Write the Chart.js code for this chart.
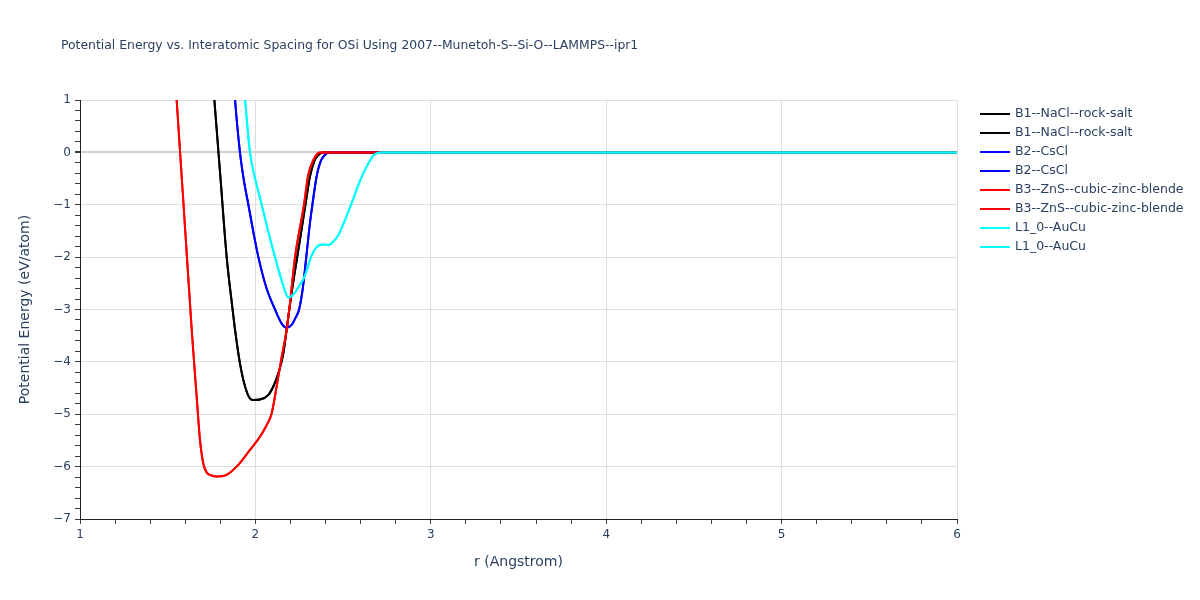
<!DOCTYPE html>
<html lang="en">
<head>
<meta charset="UTF-8">
<title>Potential Energy vs. Interatomic Spacing for OSi</title>
<script src="https://cdn.jsdelivr.net/npm/chart.js"></script>
<style>
  html, body { margin: 0; padding: 0; background: #fff; }
</style>
</head>
<body>
<canvas id="myChart" width="1200" height="600"></canvas>
<script>
// values: r in Angstrom, energy in eV/atom
const rB1 = [1.74, 1.766, 1.80, 1.836, 1.87, 1.884, 1.912, 1.941, 1.969, 1.988, 2.026, 2.074, 2.102, 2.131, 2.159, 2.178, 2.21, 2.254, 2.285, 2.311, 2.335, 2.359, 2.385, 6];
const eB1 = [2.1, 1.0, -0.45, -1.99, -3.0, -3.39, -4.03, -4.47, -4.70, -4.73, -4.72, -4.63, -4.47, -4.22, -3.84, -3.39, -2.6, -1.67, -1.0, -0.46, -0.17, -0.05, 0, 0];

const rB2 = [1.87, 1.884, 1.912, 1.935, 1.96, 1.99, 2.017, 2.064, 2.112, 2.15, 2.178, 2.205, 2.23, 2.249, 2.27, 2.29, 2.311, 2.325, 2.349, 2.375, 2.406, 2.425, 6];
const eB2 = [1.7, 1.0, 0.0, -0.55, -1.0, -1.55, -2.0, -2.6, -3.0, -3.27, -3.35, -3.3, -3.15, -3.0, -2.6, -2.0, -1.35, -1.0, -0.46, -0.15, -0.02, 0, 0];

const rB3 = [1.53, 1.551, 1.60, 1.637, 1.665, 1.684, 1.703, 1.722, 1.75, 1.779, 1.827, 1.893, 1.969, 2.026, 2.064, 2.093, 2.121, 2.15, 2.178, 2.197, 2.226, 2.277, 2.30, 2.33, 2.35, 2.368, 6];
const eB3 = [2.0, 1.0, -1.5, -3.39, -4.66, -5.49, -5.94, -6.11, -6.17, -6.19, -6.17, -6.0, -5.68, -5.43, -5.21, -4.98, -4.47, -3.90, -3.39, -2.88, -2.0, -1.0, -0.45, -0.15, -0.04, 0, 0];

const rL10 = [1.93, 1.941, 1.969, 2.0, 2.036, 2.074, 2.112, 2.15, 2.188, 2.22, 2.25, 2.283, 2.32, 2.359, 2.39, 2.416, 2.445, 2.473, 2.50, 2.53, 2.56, 2.587, 2.615, 2.644, 2.67, 2.691, 2.72, 6];
const eL10 = [1.4, 1.0, 0.0, -0.52, -1.0, -1.52, -2.0, -2.45, -2.77, -2.7, -2.55, -2.35, -1.97, -1.78, -1.76, -1.77, -1.7, -1.58, -1.38, -1.13, -0.87, -0.62, -0.4, -0.21, -0.07, -0.02, 0, 0];

const names = ['B1--NaCl--rock-salt', 'B2--CsCl', 'B3--ZnS--cubic-zinc-blende', 'L1_0--AuCu'];
const series = [[rB1, eB1], [rB2, eB2], [rB3, eB3], [rL10, eL10]];
const lineColors = ['#000000', '#0000ff', '#ff0000', '#00ffff'];

const chartTitle = 'Potential Energy vs. Interatomic Spacing for OSi Using 2007--Munetoh-S--Si-O--LAMMPS--ipr1';
const fontFamily = '"DejaVu Sans", verdana, arial, sans-serif';
const textColor = '#2a3f5f';

// every structure shows up twice in the original legend
const datasets = [];
series.forEach(function (s, i) {
    for (let k = 0; k < 2; k++) {
        datasets.push({
            label: names[i],
            data: s[0].map((r, j) => ({ x: r, y: s[1][j] })),
            borderColor: lineColors[i],
            backgroundColor: lineColors[i],
            borderWidth: 2,
            pointRadius: 0,
            cubicInterpolationMode: 'monotone',
            order: -(i * 2 + k)   // later traces on top, like plotly
        });
    }
});

function isWhole(v) { return Math.abs(v - Math.round(v)) < 1e-6; }
function tickLabel(v) { return isWhole(v) ? String(Math.round(v)).replace('-', '\u2212') : ''; }

// title at the top-left and a plotly-like legend to the right of the plot
const extrasPlugin = {
    id: 'plotExtras',
    afterDraw(chart) {
        const ctx = chart.ctx;
        ctx.save();
        ctx.font = '12.4px ' + fontFamily;
        ctx.fillStyle = textColor;
        ctx.textBaseline = 'middle';
        ctx.fillText(chartTitle, 61, 46);

        const x0 = chart.chartArea.right + 23;
        ctx.font = '12.5px ' + fontFamily;
        chart.data.datasets.forEach(function (ds, i) {
            const y = 114 + i * 19;
            ctx.strokeStyle = ds.borderColor;
            ctx.lineWidth = 2;
            ctx.beginPath();
            ctx.moveTo(x0, y);
            ctx.lineTo(x0 + 30, y);
            ctx.stroke();
            ctx.fillStyle = textColor;
            ctx.fillText(ds.label, x0 + 35, y);
        });
        ctx.restore();
    }
};

const ctx = document.getElementById('myChart').getContext('2d');
new Chart(ctx, {
    type: 'line',
    data: { datasets: datasets },
    plugins: [extrasPlugin],
    options: {
        responsive: false,
        animation: false,
        layout: { padding: { top: 100, left: 0, bottom: 0, right: 243 } },
        plugins: {
            title: { display: false },
            tooltip: { enabled: false },
            legend: { display: false }
        },
        scales: {
            x: {
                type: 'linear',
                min: 1,
                max: 6,
                afterFit(scale) { scale.height = 81; },
                ticks: {
                    stepSize: 0.2,
                    autoSkip: false,
                    maxRotation: 0,
                    padding: 4,
                    color: textColor,
                    font: { family: fontFamily, size: 12 },
                    callback: tickLabel
                },
                grid: {
                    color: c => isWhole(c.tick.value) ? '#dedede' : 'rgba(0,0,0,0)',
                    tickColor: '#444',
                    tickLength: 5
                },
                border: { display: true, color: '#222', width: 1 },
                title: {
                    display: true,
                    text: 'r (Angstrom)',
                    color: textColor,
                    font: { family: fontFamily, size: 14 },
                    padding: { top: 0, bottom: 29 }
                }
            },
            y: {
                type: 'linear',
                min: -7,
                max: 1,
                afterFit(scale) { scale.width = 80; },
                ticks: {
                    stepSize: 0.2,
                    autoSkip: false,
                    padding: 4,
                    color: textColor,
                    font: { family: fontFamily, size: 12 },
                    callback: tickLabel
                },
                grid: {
                    color: c => isWhole(c.tick.value) ? (Math.round(c.tick.value) === 0 ? '#d0d0d0' : '#dedede') : 'rgba(0,0,0,0)',
                    lineWidth: c => Math.round(c.tick.value * 5) === 0 ? 2 : 1,
                    tickColor: '#444',
                    tickLength: 5
                },
                border: { display: true, color: '#222', width: 1 },
                title: {
                    display: true,
                    text: 'Potential Energy (eV/atom)',
                    color: textColor,
                    font: { family: fontFamily, size: 14 },
                    padding: { top: 17, bottom: 0 }
                }
            }
        }
    }
});
</script>
</body>
</html>
